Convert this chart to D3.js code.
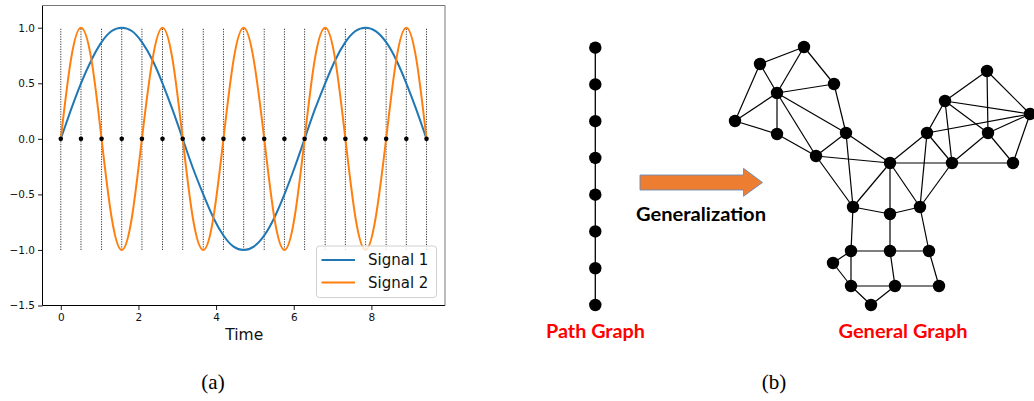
<!DOCTYPE html>
<html>
<head>
<meta charset="utf-8">
<script src="https://cdn.jsdelivr.net/npm/d3@7"></script>
<style>
  html, body { margin: 0; padding: 0; background: #fff; }
  svg { display: block; }
</style>
</head>
<body>
<svg id="fig" width="1034" height="401"></svg>
<script>
// ---- (a) sampled signals ----
const time = [0, 0.26, 0.52, 0.79, 1.05, 1.31, 1.57, 1.83, 2.09, 2.36, 2.62, 2.88,
  3.14, 3.40, 3.67, 3.93, 4.19, 4.45, 4.71, 4.97, 5.24, 5.50, 5.76, 6.02,
  6.28, 6.54, 6.81, 7.07, 7.33, 7.59, 7.85, 8.11, 8.38, 8.64, 8.90, 9.16, 9.42];
const signal1 = [0, 0.26, 0.5, 0.71, 0.87, 0.97, 1, 0.97, 0.87, 0.71, 0.5, 0.26,
  0, -0.26, -0.5, -0.71, -0.87, -0.97, -1, -0.97, -0.87, -0.71, -0.5, -0.26,
  0, 0.26, 0.5, 0.71, 0.87, 0.97, 1, 0.97, 0.87, 0.71, 0.5, 0.26, 0];
const signal2 = [0, 0.71, 1, 0.71, 0, -0.71, -1, -0.71,
  0, 0.71, 1, 0.71, 0, -0.71, -1, -0.71,
  0, 0.71, 1, 0.71, 0, -0.71, -1, -0.71,
  0, 0.71, 1, 0.71, 0, -0.71, -1, -0.71,
  0, 0.71, 1, 0.71, 0];
const sampleTimes = [0, 0.52, 1.05, 1.57, 2.09, 2.62, 3.14, 3.67, 4.19, 4.71,
  5.24, 5.76, 6.28, 6.81, 7.33, 7.85, 8.38, 8.90, 9.42];
const seriesNames = ["Signal 1", "Signal 2"];
const seriesColors = ["#1f77b4", "#ff7f0e"];
const xTicks = [0, 2, 4, 6, 8];
const yTicks = [-1.5, -1.0, -0.5, 0.0, 0.5, 1.0];

// ---- (b) graphs ----
const pathNodes = [0, 1, 2, 3, 4, 5, 6, 7];
// layout coordinates of the general graph
const graphNodes = [
  { id: "A", x: 74, y: 2 },   { id: "B", x: 30, y: 19 },  { id: "C", x: 104, y: 39 },
  { id: "D", x: 47, y: 48 },  { id: "E", x: 5, y: 76 },   { id: "F", x: 47, y: 89 },
  { id: "G", x: 116, y: 88 }, { id: "H", x: 86, y: 111 }, { id: "I", x: 160, y: 118 },
  { id: "J", x: 257, y: 26 }, { id: "K", x: 215, y: 56 }, { id: "L", x: 300, y: 69 },
  { id: "M", x: 197, y: 88 }, { id: "N", x: 258, y: 88 }, { id: "O", x: 222, y: 118 },
  { id: "P", x: 283, y: 118 },{ id: "Q", x: 123, y: 162 },{ id: "R", x: 160, y: 169 },
  { id: "S", x: 190, y: 162 },{ id: "T", x: 121, y: 206 },{ id: "U", x: 160, y: 206 },
  { id: "V", x: 199, y: 206 },{ id: "W", x: 103, y: 218 },{ id: "X", x: 121, y: 241 },
  { id: "Y", x: 165, y: 241 },{ id: "Z", x: 209, y: 241 },{ id: "AA", x: 141, y: 260 }
];
const graphEdges = [
  ["A","B"],["A","D"],["A","C"],["B","D"],["B","E"],["D","C"],["D","E"],["D","F"],
  ["D","H"],["D","G"],["E","F"],["F","H"],["C","G"],["G","H"],["H","I"],["G","I"],
  ["G","Q"],["H","Q"],["I","Q"],["I","R"],["I","S"],["I","O"],["I","M"],["M","S"],
  ["O","S"],["M","O"],["M","K"],["M","L"],["K","O"],["K","J"],["K","L"],["K","N"],
  ["J","N"],["J","L"],["N","L"],["N","O"],["N","P"],["L","P"],["O","P"],
  ["Q","R"],["R","S"],["Q","T"],["R","U"],["S","V"],["T","U"],["U","V"],["T","W"],
  ["T","X"],["W","X"],["X","Y"],["Y","Z"],["U","Y"],["V","Z"],["X","AA"],["Y","AA"]
];

const svg = d3.select("#fig");
svg.append("rect").attr("width", 1034).attr("height", 401).attr("fill", "#fff");

// ================= panel (a) =================
const plot = { left: 42.5, right: 445, top: 5.5, bottom: 305.5 };
const x = d3.scaleLinear().domain([-0.4712, 9.896]).range([plot.left, plot.right]);
const y = d3.scaleLinear().domain([-1.5, 1.2]).range([plot.bottom, plot.top]);

const a = svg.append("g").attr("class", "panel-a");

// sampling instants: dotted verticals
a.append("g").selectAll("line").data(sampleTimes).join("line")
  .attr("x1", d => x(d)).attr("x2", d => x(d))
  .attr("y1", y(-1)).attr("y2", y(1))
  .attr("stroke", "#000").attr("stroke-width", 0.8)
  .attr("stroke-dasharray", "1.2,1.3");

// signal curves
const series = [signal1, signal2];
const line = d3.line()
  .x((d, i) => x(time[i]))
  .y(d => y(d))
  .curve(d3.curveNatural);
a.append("g").selectAll("path").data(series).join("path")
  .attr("d", d => line(d))
  .attr("fill", "none")
  .attr("stroke", (d, i) => seriesColors[i])
  .attr("stroke-width", 2);

// sample points on the time axis
a.append("g").selectAll("circle").data(sampleTimes).join("circle")
  .attr("cx", d => x(d)).attr("cy", y(0)).attr("r", 2.3).attr("fill", "#000");

// axes
const fontAxis = "DejaVu Sans, sans-serif";
const xAxis = a.append("g").attr("transform", `translate(0,${plot.bottom})`)
  .call(d3.axisBottom(x).tickValues(xTicks).tickFormat(d3.format("d")).tickSize(4.5).tickPadding(3.5));
const yAxis = a.append("g").attr("transform", `translate(${plot.left},0)`)
  .call(d3.axisLeft(y).tickValues(yTicks).tickFormat(d3.format(".1f")).tickSize(4.5).tickPadding(3));
[xAxis, yAxis].forEach(g => {
  g.select(".domain").remove();
  g.selectAll(".tick line").attr("stroke", "#000").attr("stroke-width", 0.9);
  g.selectAll(".tick text").attr("font-family", fontAxis).attr("font-size", 10.5).attr("fill", "#111");
});

// frame
a.append("line").attr("x1", plot.left).attr("x2", plot.left).attr("y1", plot.top).attr("y2", plot.bottom)
  .attr("stroke", "#000").attr("stroke-width", 1);
a.append("line").attr("x1", plot.left).attr("x2", plot.right).attr("y1", plot.bottom).attr("y2", plot.bottom)
  .attr("stroke", "#000").attr("stroke-width", 1);
a.append("line").attr("x1", plot.left).attr("x2", plot.right).attr("y1", plot.top).attr("y2", plot.top)
  .attr("stroke", "#777").attr("stroke-width", 1);
a.append("line").attr("x1", plot.right).attr("x2", plot.right).attr("y1", plot.top).attr("y2", plot.bottom)
  .attr("stroke", "#777").attr("stroke-width", 1);

a.append("text").attr("x", (plot.left + plot.right) / 2 + 0.5).attr("y", 340)
  .attr("text-anchor", "middle").attr("font-family", fontAxis).attr("font-size", 15.5)
  .attr("fill", "#111").text("Time");

// legend
const lg = a.append("g").attr("transform", "translate(316.5,246)");
lg.append("rect").attr("width", 120).attr("height", 51.5).attr("rx", 3)
  .attr("fill", "#fff").attr("fill-opacity", 0.8).attr("stroke", "#d0d0d0").attr("stroke-width", 1);
const items = lg.selectAll("g.item").data(seriesNames).join("g").attr("class", "item")
  .attr("transform", (d, i) => `translate(0,${14 + i * 22.5})`);
items.append("line").attr("x1", 5).attr("x2", 38.5).attr("stroke", (d, i) => seriesColors[i]).attr("stroke-width", 2);
items.append("text").attr("x", 51.5).attr("y", 5.2).attr("font-family", fontAxis).attr("font-size", 15)
  .attr("fill", "#111").text(d => d);

// ================= panel (b) =================
const b = svg.append("g").attr("class", "panel-b");
const fontLabel = "Lato, 'Open Sans', sans-serif";

// path graph
const py = d3.scalePoint().domain(pathNodes).range([47.7, 305]);
const pathX = 595.3;
b.append("line").attr("x1", pathX).attr("x2", pathX)
  .attr("y1", py(pathNodes[0])).attr("y2", py(pathNodes[pathNodes.length - 1]))
  .attr("stroke", "#000").attr("stroke-width", 1.3);
b.append("g").selectAll("circle").data(pathNodes).join("circle")
  .attr("cx", pathX).attr("cy", d => py(d)).attr("r", 6.2).attr("fill", "#000");

b.append("text").attr("x", 595.5).attr("y", 337.5).attr("text-anchor", "middle")
  .attr("font-family", fontLabel).attr("font-weight", 700).attr("font-size", 18)
  .attr("fill", "#ff0000").attr("textLength", 99).attr("lengthAdjust", "spacingAndGlyphs")
  .text("Path Graph");

// arrow
const ar = { x0: 640, x1: 743.5, tip: 762.5, bodyTop: 175, bodyBot: 190, headTop: 168.3, headBot: 196.3 };
const mid = (ar.bodyTop + ar.bodyBot) / 2;
b.append("path")
  .attr("d", `M${ar.x0},${ar.bodyTop} L${ar.x1},${ar.bodyTop} L${ar.x1},${ar.headTop} L${ar.tip},${mid} L${ar.x1},${ar.headBot} L${ar.x1},${ar.bodyBot} L${ar.x0},${ar.bodyBot} Z`)
  .attr("fill", "#ed7d31").attr("stroke", "#6a8cba").attr("stroke-width", 0.9);

b.append("text").attr("x", 701).attr("y", 220.5).attr("text-anchor", "middle")
  .attr("font-family", fontLabel).attr("font-weight", 700).attr("font-size", 18.5)
  .attr("fill", "#000").attr("textLength", 130).attr("lengthAdjust", "spacingAndGlyphs")
  .text("Generalization");

// general graph
const gx = d3.scaleLinear().domain([0, 300]).range([730, 1030]);
const gy = d3.scaleLinear().domain([0, 260]).range([45, 305]);
const byId = new Map(graphNodes.map(n => [n.id, n]));
b.append("g").selectAll("line").data(graphEdges).join("line")
  .attr("x1", d => gx(byId.get(d[0]).x)).attr("y1", d => gy(byId.get(d[0]).y))
  .attr("x2", d => gx(byId.get(d[1]).x)).attr("y2", d => gy(byId.get(d[1]).y))
  .attr("stroke", "#000").attr("stroke-width", 1.2);
b.append("g").selectAll("circle").data(graphNodes).join("circle")
  .attr("cx", d => gx(d.x)).attr("cy", d => gy(d.y)).attr("r", 6.2).attr("fill", "#000");

b.append("text").attr("x", 903).attr("y", 337.5).attr("text-anchor", "middle")
  .attr("font-family", fontLabel).attr("font-weight", 700).attr("font-size", 18)
  .attr("fill", "#ff0000").attr("textLength", 129).attr("lengthAdjust", "spacingAndGlyphs")
  .text("General Graph");

// captions
const fontCaption = "'Liberation Serif', 'DejaVu Serif', serif";
svg.append("text").attr("x", 213).attr("y", 388.5).attr("text-anchor", "middle")
  .attr("font-family", fontCaption).attr("font-size", 21).attr("fill", "#000").text("(a)");
svg.append("text").attr("x", 774).attr("y", 388.5).attr("text-anchor", "middle")
  .attr("font-family", fontCaption).attr("font-size", 21).attr("fill", "#000").text("(b)");
</script>
</body>
</html>
